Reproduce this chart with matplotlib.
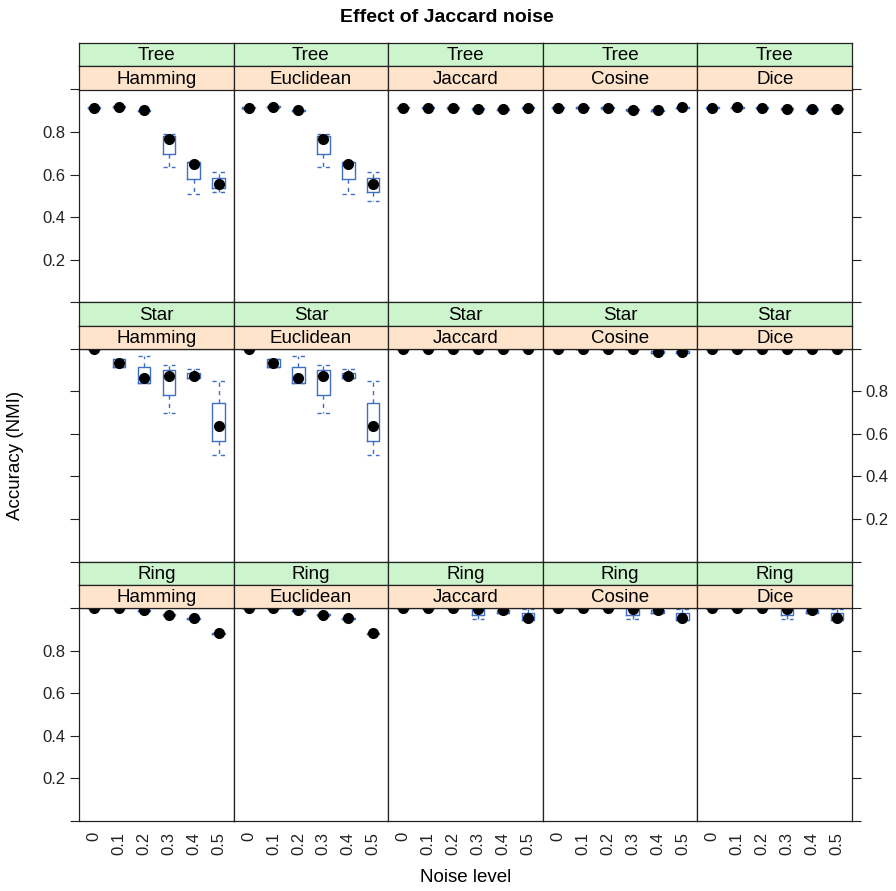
import matplotlib
matplotlib.use("Agg")
import matplotlib.pyplot as plt

plt.rcParams['font.family'] = ['Liberation Sans', 'DejaVu Sans']

# Daten
niveles = ['0', '0.1', '0.2', '0.3', '0.4', '0.5']
distancias = ['Hamming', 'Euclidean', 'Jaccard', 'Cosine', 'Dice']
formas = ['Tree', 'Star', 'Ring']

# Tree: una lista por distancia (Hamming, Euclidean, Jaccard, Cosine, Dice)
tree_med = [[0.915, 0.919, 0.903, 0.768, 0.652, 0.558],
            [0.915, 0.919, 0.903, 0.766, 0.652, 0.556],
            [0.915, 0.915, 0.914, 0.910, 0.907, 0.915],
            [0.915, 0.915, 0.914, 0.905, 0.903, 0.916],
            [0.915, 0.916, 0.914, 0.910, 0.907, 0.910]]
tree_q1 = [[0.912, 0.916, 0.900, 0.699, 0.578, 0.535],
           [0.912, 0.916, 0.900, 0.699, 0.578, 0.516],
           [0.912, 0.912, 0.911, 0.907, 0.904, 0.912],
           [0.912, 0.912, 0.911, 0.902, 0.898, 0.913],
           [0.912, 0.913, 0.911, 0.907, 0.904, 0.907]]
tree_q3 = [[0.918, 0.921, 0.905, 0.781, 0.657, 0.585],
           [0.918, 0.921, 0.905, 0.781, 0.657, 0.585],
           [0.918, 0.918, 0.917, 0.913, 0.910, 0.918],
           [0.918, 0.918, 0.917, 0.908, 0.906, 0.919],
           [0.918, 0.919, 0.917, 0.913, 0.910, 0.913]]
tree_lo = [[0.910, 0.914, 0.898, 0.637, 0.508, 0.516],
           [0.910, 0.914, 0.898, 0.637, 0.508, 0.475],
           [0.911, 0.911, 0.910, 0.906, 0.903, 0.911],
           [0.911, 0.911, 0.910, 0.901, 0.897, 0.912],
           [0.911, 0.912, 0.910, 0.906, 0.903, 0.906]]
tree_hi = [[0.919, 0.922, 0.906, 0.790, 0.657, 0.613],
           [0.919, 0.922, 0.906, 0.790, 0.657, 0.613],
           [0.919, 0.919, 0.918, 0.914, 0.911, 0.919],
           [0.919, 0.919, 0.918, 0.909, 0.907, 0.920],
           [0.919, 0.920, 0.918, 0.914, 0.911, 0.914]]

# Star
star_med = [[1.0, 0.933, 0.862, 0.874, 0.874, 0.638],
            [1.0, 0.933, 0.862, 0.874, 0.874, 0.638],
            [1.0, 1.0, 1.0, 1.0, 1.0, 1.0],
            [1.0, 1.0, 1.0, 1.0, 0.985, 0.984],
            [1.0, 1.0, 1.0, 1.0, 1.0, 1.0]]
star_q1 = [[1.0, 0.914, 0.840, 0.784, 0.862, 0.566],
           [1.0, 0.914, 0.840, 0.784, 0.862, 0.566],
           [1.0, 1.0, 1.0, 1.0, 1.0, 1.0],
           [1.0, 1.0, 1.0, 1.0, 0.980, 0.980],
           [1.0, 1.0, 1.0, 1.0, 1.0, 1.0]]
star_q3 = [[1.0, 0.950, 0.914, 0.901, 0.887, 0.744],
           [1.0, 0.950, 0.914, 0.901, 0.887, 0.744],
           [1.0, 1.0, 1.0, 1.0, 1.0, 1.0],
           [1.0, 1.0, 1.0, 1.0, 0.990, 0.990],
           [1.0, 1.0, 1.0, 1.0, 1.0, 1.0]]
star_lo = [[1.0, 0.914, 0.840, 0.698, 0.862, 0.500],
           [1.0, 0.914, 0.840, 0.698, 0.862, 0.500],
           [1.0, 1.0, 1.0, 1.0, 1.0, 1.0],
           [1.0, 1.0, 1.0, 1.0, 0.978, 0.978],
           [1.0, 1.0, 1.0, 1.0, 1.0, 1.0]]
star_hi = [[1.0, 0.950, 0.964, 0.925, 0.904, 0.850],
           [1.0, 0.950, 0.964, 0.925, 0.904, 0.850],
           [1.0, 1.0, 1.0, 1.0, 1.0, 1.0],
           [1.0, 1.0, 1.0, 1.0, 0.992, 0.992],
           [1.0, 1.0, 1.0, 1.0, 1.0, 1.0]]

# Ring
ring_med = [[1.0, 1.0, 0.990, 0.969, 0.952, 0.881],
            [1.0, 1.0, 0.990, 0.969, 0.952, 0.881],
            [1.0, 1.0, 1.0, 0.995, 0.993, 0.953],
            [1.0, 1.0, 1.0, 0.995, 0.993, 0.953],
            [1.0, 1.0, 1.0, 0.995, 0.993, 0.953]]
ring_q1 = [[1.0, 1.0, 0.988, 0.966, 0.950, 0.878],
           [1.0, 1.0, 0.988, 0.966, 0.950, 0.878],
           [1.0, 1.0, 1.0, 0.969, 0.975, 0.944],
           [1.0, 1.0, 1.0, 0.969, 0.975, 0.944],
           [1.0, 1.0, 1.0, 0.969, 0.975, 0.944]]
ring_q3 = [[1.0, 1.0, 0.992, 0.972, 0.954, 0.884],
           [1.0, 1.0, 0.992, 0.972, 0.954, 0.884],
           [1.0, 1.0, 1.0, 1.0, 0.990, 0.975],
           [1.0, 1.0, 1.0, 1.0, 0.990, 0.975],
           [1.0, 1.0, 1.0, 1.0, 0.990, 0.975]]
ring_lo = [[1.0, 1.0, 0.987, 0.965, 0.949, 0.877],
           [1.0, 1.0, 0.987, 0.965, 0.949, 0.877],
           [1.0, 1.0, 1.0, 0.948, 0.975, 0.944],
           [1.0, 1.0, 1.0, 0.948, 0.975, 0.944],
           [1.0, 1.0, 1.0, 0.948, 0.975, 0.944]]
ring_hi = [[1.0, 1.0, 0.993, 0.973, 0.955, 0.885],
           [1.0, 1.0, 0.993, 0.973, 0.955, 0.885],
           [1.0, 1.0, 1.0, 1.0, 0.990, 0.995],
           [1.0, 1.0, 1.0, 1.0, 0.990, 0.995],
           [1.0, 1.0, 1.0, 1.0, 0.990, 0.995]]

stats = {
    'Tree': (tree_med, tree_q1, tree_q3, tree_lo, tree_hi),
    'Star': (star_med, star_q1, star_q3, star_lo, star_hi),
    'Ring': (ring_med, ring_q1, ring_q3, ring_lo, ring_hi),
}

# Colores / tamaños
VERDE = '#cdf5cd'
NARANJA = '#ffe4cc'
AZUL = '#3d6fc6'
BORDE = '#222222'

W, H = 896, 891
fig = plt.figure(figsize=(W / 100, H / 100), dpi=100)

def caja(x0, y0, w, h):
    return [x0 / W, 1 - (y0 + h) / H, w / W, h / H]

X0 = 79
ANCHO = (852 - 79) / 5
Y0 = 43
TIRA = 23.25
PANEL = 212.8

for fila, forma in enumerate(formas):
    med, q1, q3, lo, hi = stats[forma]
    ytop = Y0 + fila * (2 * TIRA + PANEL)
    for col, dist in enumerate(distancias):
        x = X0 + col * ANCHO

        ax = fig.add_axes(caja(x, ytop + 2 * TIRA, ANCHO, PANEL))
        bxs = []
        for i in range(6):
            bxs.append({'med': med[col][i], 'q1': q1[col][i], 'q3': q3[col][i],
                        'whislo': lo[col][i], 'whishi': hi[col][i], 'fliers': []})
        pos = list(range(1, 7))
        ax.bxp(bxs, positions=pos, widths=0.5, capwidths=0.5, showfliers=False,
               boxprops=dict(color=AZUL, linewidth=1.0),
               whiskerprops=dict(color=AZUL, linewidth=1.0, linestyle=(0, (3, 3))),
               capprops=dict(color=AZUL, linewidth=1.0, linestyle=(0, (3, 3))),
               medianprops=dict(linewidth=0))
        ax.plot(pos, med[col], 'o', color='black', markersize=7, zorder=5)

        ax.set_xlim(0.4, 6.6)
        ax.set_ylim(0, 1.0)
        for sp in ax.spines.values():
            sp.set_color(BORDE)
            sp.set_linewidth(0.9)

        ax.set_yticks([0, 0.2, 0.4, 0.6, 0.8, 1.0])
        ax.set_yticklabels(['', '0.2', '0.4', '0.6', '0.8', ''])
        ax.tick_params(axis='y', length=6.5, width=0.8, color=BORDE,
                       labelsize=12, labelcolor='#222222', pad=3,
                       left=(col == 0), right=(col == 4),
                       labelleft=(col == 0 and fila != 1),
                       labelright=(col == 4 and fila == 1))

        ax.set_xticks(pos)
        if fila == 2:
            ax.set_xticklabels(niveles, rotation=90, va='top')
            ax.tick_params(axis='x', length=0, pad=8, labelsize=12,
                           labelcolor='#222222')
        else:
            ax.tick_params(axis='x', length=0, labelbottom=False)

        # tiras (encima del panel, tapan los puntos en 1.0)
        for k, (txt, color) in enumerate([(forma, VERDE), (dist, NARANJA)]):
            s = fig.add_axes(caja(x, ytop + k * TIRA, ANCHO, TIRA))
            s.set_facecolor(color)
            s.set_xticks([])
            s.set_yticks([])
            for sp in s.spines.values():
                sp.set_color(BORDE)
                sp.set_linewidth(0.9)
            s.text(0.5, 0.45, txt, ha='center', va='center', fontsize=13.5,
                   transform=s.transAxes)

fig.text(447 / W, 1 - 17 / H, 'Effect of Jaccard noise', ha='center', va='center',
         fontsize=14, fontweight='bold')
fig.text(15 / W, 1 - 455 / H, 'Accuracy (NMI)', ha='center', va='center',
         rotation=90, fontsize=13.5)
fig.text(466 / W, 1 - 878 / H, 'Noise level', ha='center', va='center',
         fontsize=13.5)

fig.savefig('out.png', dpi=100)
